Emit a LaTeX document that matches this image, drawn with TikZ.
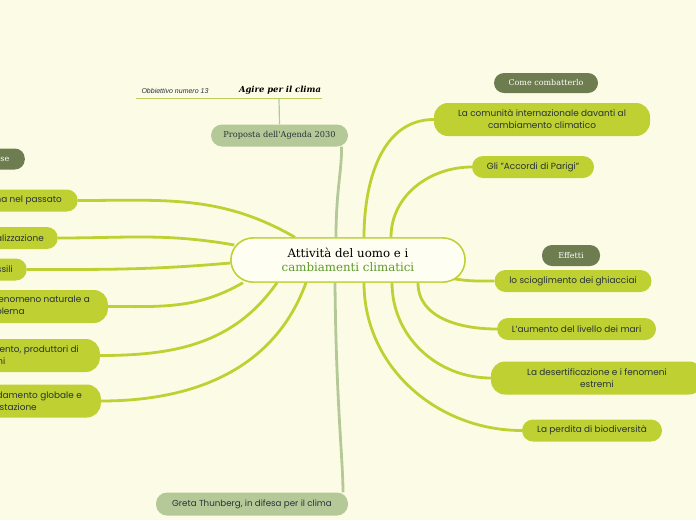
\documentclass[tikz,border=0pt]{standalone}
\usepackage{fontspec}
\setmainfont{Poppins}
\newfontfamily\seriffont{DejaVu Serif}
\newfontfamily\labelfont{Liberation Sans}
\usetikzlibrary{positioning}
\definecolor{MapBack}{HTML}{FCFCE6}
\definecolor{TopicGreen}{HTML}{BFD032}
\definecolor{TagGreen}{HTML}{6E7D50}
\definecolor{PaleGreen}{HTML}{B5C998}
\definecolor{CoreFill}{HTML}{FEFEF2}
\definecolor{CoreText}{HTML}{5E9A2A}
\definecolor{DarkText}{HTML}{263238}

\begin{document}
\begin{tikzpicture}[x=1pt,y=-1pt,
  core/.style={draw=TopicGreen,fill=CoreFill,line width=1.4pt,rounded corners=22pt,minimum width=234pt,minimum height=44pt,align=center,font=\seriffont\fontsize{11.8}{14}\selectfont},
  topic/.style={fill=TopicGreen,rounded corners=11pt,minimum height=22pt,inner xsep=14pt,align=center,text=DarkText,font=\fontsize{8.9}{12}\selectfont},
  tag/.style={fill=TagGreen,rounded corners=10pt,minimum height=21pt,text=white,font=\seriffont\fontsize{8}{9}\selectfont},
  pale/.style={fill=PaleGreen,rounded corners=11pt,minimum height=22pt,text=DarkText},
  link/.style={draw=TopicGreen,line width=2.8pt},
  palelink/.style={draw=PaleGreen,line width=2.8pt}
]
\useasboundingbox (0,0) rectangle (696,520);
\fill[MapBack] (0,0) rectangle (696,520);
\clip (0,0) rectangle (696,520);

% title line
\coordinate (ul) at (136,98);
\coordinate (ur) at (322,98);
\coordinate (um) at (279,98);
\node[font=\labelfont\itshape\fontsize{7}{8}\selectfont,text=DarkText] (goal) at (175,91) {Obbiettivo numero 13};
\node[font=\seriffont\bfseries\itshape\fontsize{8.4}{10}\selectfont] (act) at (280,90.5) {Agire per il clima};

% nodes
\node[pale,minimum width=137pt,font=\seriffont\fontsize{8.2}{9}\selectfont] (pro) at (279.5,135.5) {Proposta dell'Agenda 2030};
\node[pale,minimum width=192pt,minimum height=23pt,font=\fontsize{8.7}{10}\selectfont] (gre) at (252,504) {Greta Thunberg, in difesa per il clima};

\node[tag,minimum width=104pt,minimum height=20pt] (how) at (546,83) {Come combatterlo};
\node[tag,minimum width=58pt] (eff) at (571,255.5) {Effetti};
\node[tag,minimum width=56pt,anchor=east] (cau) at (25,159) {Cause};

\node[topic,minimum width=216pt,minimum height=33pt,rounded corners=14pt] (com) at (542,119.5) {La comunità internazionale davanti al\\cambiamento climatico};
\node[topic,minimum width=122pt] (acc) at (533,167) {Gli "Accordi di Parigi"};
\node[topic,minimum width=157pt] (ghi) at (573,281) {lo scioglimento dei ghiacciai};
\node[topic,minimum width=159pt] (mar) at (576.5,329) {L'aumento del livello dei mari};
\node[topic,minimum width=212pt,minimum height=33pt,rounded corners=14pt] (des) at (597,378) {La desertificazione e i fenomeni\\estremi};
\node[topic,minimum width=140pt] (bio) at (592,430.5) {La perdita di biodiversità};

\node[topic,anchor=east,inner xsep=16pt] (pas) at (78,200.5) {Il clima nel passato};
\node[topic,anchor=east] (ind) at (58,238) {L'industrializzazione};
\node[topic,anchor=east] (fos) at (27,269.5) {I combustibili fossili};
\node[topic,anchor=east,align=left,minimum height=33pt,rounded corners=14pt,inner xsep=18pt] (fen) at (108,306.5) {Da fenomeno naturale a\\problema};
\node[topic,anchor=east,align=left,minimum height=33pt,rounded corners=14pt,inner xsep=21pt] (all) at (100,355.5) {Allevamento, produttori di\\emissioni};
\node[topic,anchor=east,align=left,minimum height=33pt,rounded corners=14pt,inner xsep=19pt] (ris) at (101,401) {Riscaldamento globale e\\deforestazione};

% connectors
\draw[TopicGreen!60!PaleGreen,line width=1pt] (ul) -- (ur);
\draw[PaleGreen,line width=1.2pt] (um) -- (pro.north);

\node[core] (c) at (348,260) {};
\draw[palelink] ([xshift=-12pt]c.north) .. controls (336,190) and (342,170) .. ([xshift=62pt]pro.south);
\draw[palelink] ([xshift=-13pt]c.south) .. controls (336,400) and (343,460) .. ([xshift=91pt]gre.north);

\draw[link] ([xshift=16pt]c.north) to[out=90,in=180] (com.west);
\draw[link] ([xshift=43pt]c.north) to[out=90,in=180] (acc.west);
\draw[link] ([xshift=-12pt,yshift=4pt]c.south east) to[out=-10,in=180] (ghi.west);
\draw[link] ([xshift=70pt]c.south) to[out=-90,in=180] (mar.west);
\draw[link] ([xshift=44pt]c.south) to[out=-90,in=180] (des.west);
\draw[link] ([xshift=16pt]c.south) to[out=-90,in=180] (bio.west);

\draw[link] (pas.east) to[out=0,in=150] ([xshift=-53pt]c.north);
\draw[link] (ind.east) to[out=0,in=170] ([xshift=4pt,yshift=15pt]c.west);
\draw[link] (fos.east) to[out=0,in=185] ([yshift=-3pt]c.west);
\draw[link] (fen.east) to[out=0,in=210] ([xshift=-105pt]c.south);
\draw[link] (all.east) to[out=0,in=235] ([xshift=-71pt]c.south);
\draw[link] (ris.east) to[out=0,in=250] ([xshift=-42pt]c.south);

\node[core] (core) at (348,260) {Attività del uomo e i\\{\color{CoreText}cambiamenti climatici}};
\end{tikzpicture}
\end{document}
